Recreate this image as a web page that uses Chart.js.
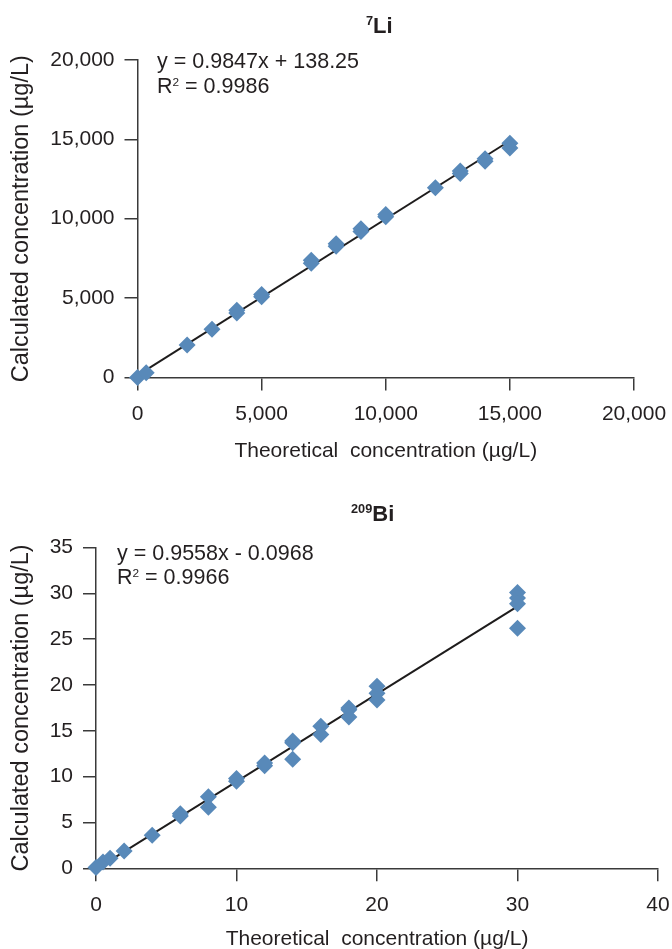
<!DOCTYPE html>
<html><head><meta charset="utf-8">
<script src="https://cdn.jsdelivr.net/npm/chart.js@4.4.1/dist/chart.umd.min.js"></script>
<style>
html,body{margin:0;padding:0;background:#fff;width:672px;height:949px;overflow:hidden;font-family:"Liberation Sans",Arial,sans-serif;color:#231f20}
.wrap{position:absolute;left:0;width:672px}
canvas{display:block}
.t{position:absolute;white-space:pre;font-size:21.5px;line-height:25px}
.title{font-weight:bold;font-size:22px;line-height:25px}
.sp{font-size:0.55em;position:relative;top:-0.6em}
.tsp{font-size:0.58em;position:relative;top:-0.62em}
</style></head><body>
<div class="wrap" style="top:0;height:475px"><canvas id="c1" width="672" height="475"></canvas></div>
<div class="wrap" style="top:475px;height:490px"><canvas id="c2" width="672" height="490"></canvas></div>
<div class="t title" style="left:366px;top:13px"><span class="tsp">7</span>Li</div>
<div class="t" style="left:157px;top:49px">y = 0.9847x + 138.25</div>
<div class="t" style="left:157px;top:74px">R<span class="sp">2</span> = 0.9986</div>
<div class="t title" style="left:351px;top:501px"><span class="tsp">209</span>Bi</div>
<div class="t" style="left:117px;top:541px">y = 0.9558x - 0.0968</div>
<div class="t" style="left:117px;top:565px">R<span class="sp">2</span> = 0.9966</div>
<script>
// ---- 7Li data (µg/L) ----
const liTheoretical = [0, 350, 2000, 3000, 4000, 4000, 5000, 5000, 7000, 7000, 8000, 8000, 9000, 9000, 10000, 10000, 12000, 13000, 13000, 14000, 14000, 15000, 15000];
const liCalculated  = [0, 300, 2050, 3040, 4060, 4230, 5080, 5230, 7200, 7390, 8260, 8430, 9200, 9370, 10120, 10260, 11950, 12850, 13000, 13620, 13780, 14750, 14450];
const liFitX = [0, 15000];
const liFitY = [138.25, 14908.75];
const liTicks = [0, 5000, 10000, 15000, 20000];

// ---- 209Bi data (µg/L) ----
const biTheoretical = [0, 0.5, 1, 2, 4, 6, 6, 8, 8, 10, 10, 12, 12, 14, 14, 14, 16, 16, 18, 18, 18, 20, 20, 20, 30, 30, 30, 30];
const biCalculated  = [0.1, 0.7, 1.1, 1.9, 3.6, 5.7, 5.95, 7.8, 6.65, 9.5, 9.8, 11.2, 11.5, 13.7, 13.9, 11.9, 15.5, 14.6, 17.5, 17.3, 16.5, 19.85, 19.1, 18.35, 30.1, 29.5, 28.85, 26.2];
const biFitX = [0, 30];
const biFitY = [-0.0968, 28.5772];
const biTicksX = [0, 10, 20, 30, 40];
const biTicksY = [0, 5, 10, 15, 20, 25, 30, 35];

const xTitle = 'Theoretical  concentration (µg/L)';
const yTitle = 'Calculated concentration (µg/L)';

const BLUE = '#5889b9';
const AX = '#3a3a3a';
const TXT = '#231f20';
const FAM = '"Liberation Sans", Arial, sans-serif';
const FONT = {family: FAM, size: 21};
const YFONT = {family: FAM, size: 23.5};

function pairs(xs, ys){ return xs.map((x,i)=>({x:x, y:ys[i]})); }

function makeChart(id, a){
  new Chart(document.getElementById(id), {
    type: 'scatter',
    data: {datasets: [
      {data: pairs(a.px, a.py), pointStyle: 'rectRot', pointRadius: 8.5, pointHoverRadius: 8.5,
       backgroundColor: BLUE, borderColor: BLUE, borderWidth: 0, clip: false, order: 1},
      {type: 'line', data: pairs(a.fx, a.fy), borderColor: '#1e1c1c', borderWidth: 2,
       pointRadius: 0, showLine: true, fill: false, tension: 0, order: 2}
    ]},
    options: {
      responsive: false, animation: false, devicePixelRatio: 1,
      layout: {padding: {left: 0, top: a.top, right: 672 - a.right, bottom: 0}},
      plugins: {legend: {display: false}, tooltip: {enabled: false}},
      scales: {
        x: {type: 'linear', min: a.xt[0], max: a.xt[a.xt.length-1],
            afterBuildTicks: s => { s.ticks = a.xt.map(v => ({value: v})); },
            ticks: {font: FONT, color: TXT, padding: 11, maxRotation: 0, autoSkip: false},
            grid: {drawOnChartArea: false, drawTicks: true, tickLength: 13, color: AX, lineWidth: 1.5},
            border: {display: true, color: AX, width: 1.5},
            title: {display: true, text: xTitle, font: FONT, color: TXT, padding: {top: 0, bottom: a.xtPad}},
            afterFit: s => { s.height = a.H - a.bottom; s.paddingLeft = 0; s.paddingRight = 0; }},
        y: {type: 'linear', min: a.yt[0], max: a.yt[a.yt.length-1],
            afterBuildTicks: s => { s.ticks = a.yt.map(v => ({value: v})); },
            ticks: {font: FONT, color: TXT, padding: 10, autoSkip: false},
            grid: {drawOnChartArea: false, drawTicks: true, tickLength: 13, color: AX, lineWidth: 1.5},
            border: {display: true, color: AX, width: 1.5},
            title: {display: true, text: yTitle, font: YFONT, color: TXT, padding: {top: 7, bottom: 0}},
            afterFit: s => { s.width = a.left; s.paddingTop = 0; s.paddingBottom = 0; }}
      }
    }
  });
}

makeChart('c1', {px: liTheoretical, py: liCalculated, fx: liFitX, fy: liFitY,
  xt: liTicks, yt: liTicks, H: 475, left: 137.5, right: 634, top: 59.9, bottom: 377.5, xtPad: 11});
makeChart('c2', {px: biTheoretical, py: biCalculated, fx: biFitX, fy: biFitY,
  xt: biTicksX, yt: biTicksY, H: 490, left: 96, right: 658, top: 72.5, bottom: 393.3, xtPad: 13});
</script>
</body></html>
